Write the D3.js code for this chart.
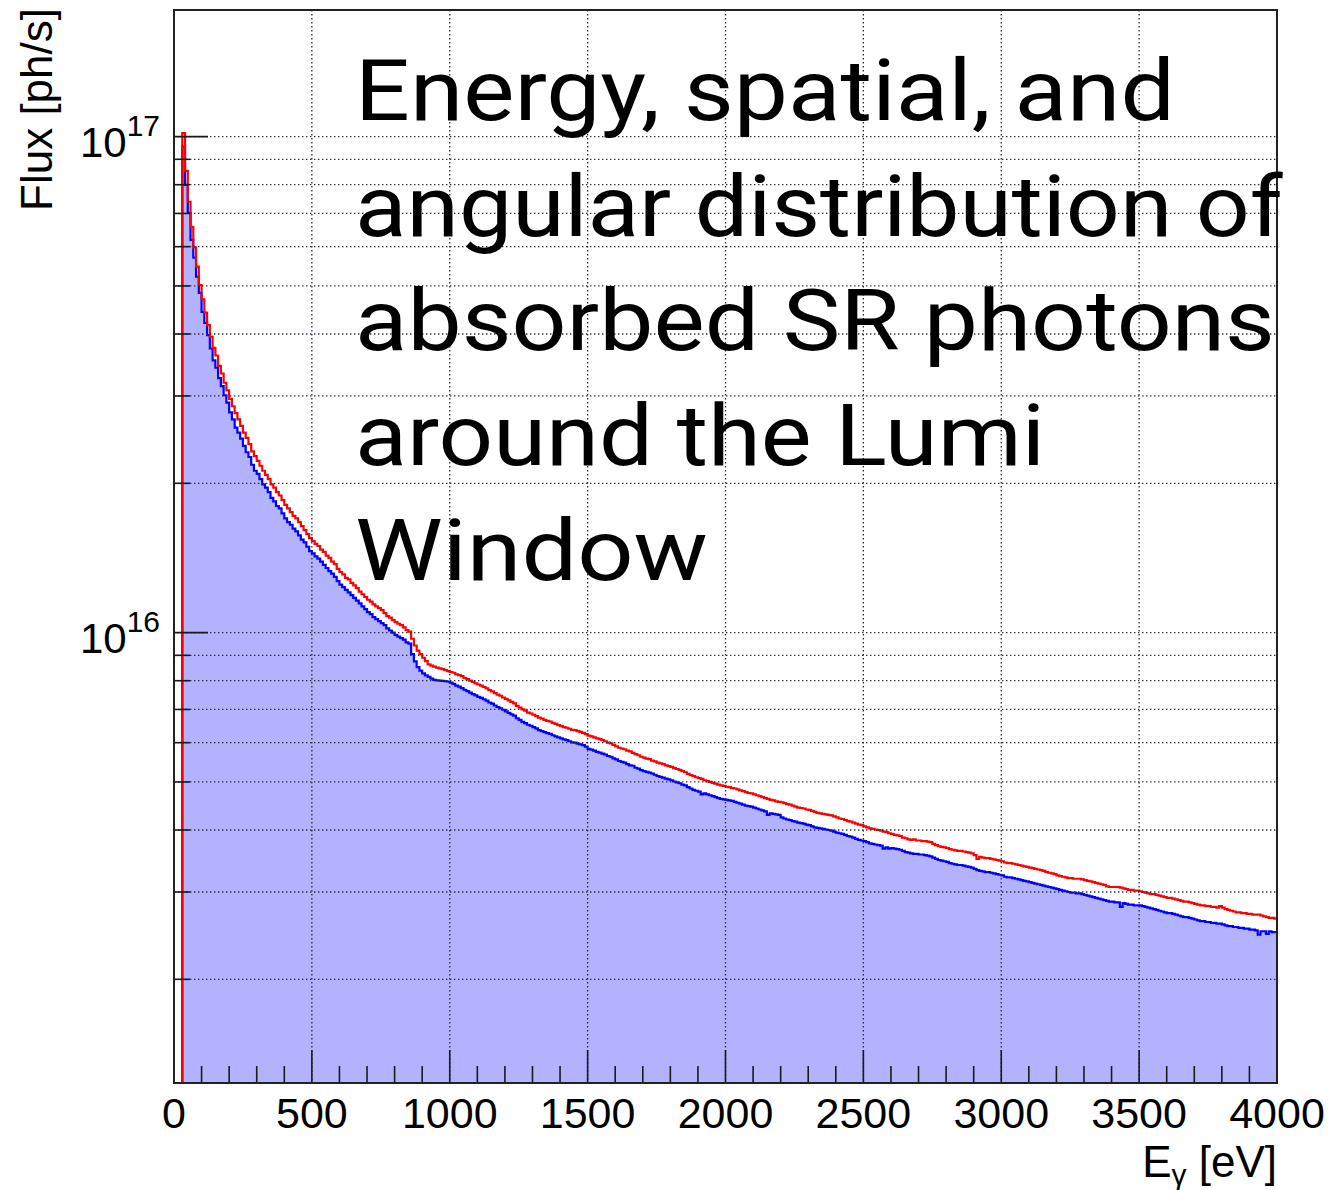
<!DOCTYPE html>
<html>
<head>
<meta charset="utf-8">
<script src="https://cdn.jsdelivr.net/npm/d3@7"></script>
<style>
  html, body { margin: 0; padding: 0; background: #ffffff; }
  svg { display: block; }
</style>
</head>
<body>
<svg id="chart" width="1334" height="1190"></svg>
<script>
// ---- Data -------------------------------------------------------------
// Photon flux per 10 eV energy bin, 0 .. 4000 eV, in units of 1e15 ph/s.
const FLUX_UNIT = 1e15;
const BIN_WIDTH = 10;            // eV
const energyRange = [0, 4000];   // eV
const fluxRange = [1.236e15, 1.8e17];

const xTickValues = [0, 500, 1000, 1500, 2000, 2500, 3000, 3500, 4000];
const xMinorStep = 100;
const yLabelExponents = [16, 17];

const xAxisTitle = "[eV]";
const yAxisTitle = "Flux [ph/s]";
const headlineLines = [
  "Energy, spatial, and",
  "angular distribution of",
  "absorbed SR photons",
  "around the Lumi",
  "Window"
];

// red outline histogram
const fluxRed = [
  0, 0, 0, 101.6, 85.3, 73.9, 65.8, 59.8, 54.7, 50.2,
  47.0, 44.2, 41.7, 39.5, 37.5, 36.2, 34.5, 33.3, 31.9, 30.8,
  29.6, 28.6, 27.7, 26.9, 26.1, 25.3, 24.7, 24.0, 23.2, 22.7,
  22.2, 21.7, 21.2, 20.8, 20.4, 19.9, 19.6, 19.2, 18.9, 18.5,
  18.1, 17.8, 17.5, 17.2, 17.0, 16.7, 16.4, 16.1, 15.8, 15.5,
  15.3, 15.1, 14.95, 14.7, 14.55, 14.3, 14.15, 13.9, 13.75, 13.45,
  13.25, 13.1, 12.9, 12.8, 12.6, 12.45, 12.3, 12.1, 11.95, 11.8,
  11.65, 11.55, 11.4, 11.3, 11.2, 11.1, 10.95, 10.8, 10.72, 10.6,
  10.5, 10.42, 10.35, 10.25, 10.12, 10.05, 9.72, 9.42, 9.2, 9.05,
  8.9, 8.76, 8.63, 8.58, 8.54, 8.5, 8.47, 8.44, 8.4, 8.36,
  8.33, 8.3, 8.24, 8.21, 8.17, 8.1, 8.06, 8.0, 7.96, 7.9,
  7.86, 7.82, 7.77, 7.72, 7.66, 7.61, 7.55, 7.5, 7.46, 7.4,
  7.35, 7.3, 7.25, 7.2, 7.12, 7.06, 7.0, 6.96, 6.9, 6.87,
  6.83, 6.79, 6.74, 6.71, 6.67, 6.64, 6.62, 6.58, 6.55, 6.51,
  6.48, 6.45, 6.43, 6.4, 6.37, 6.36, 6.33, 6.31, 6.28, 6.24,
  6.2, 6.18, 6.15, 6.12, 6.1, 6.07, 6.04, 6.0, 5.98, 5.94,
  5.9, 5.86, 5.84, 5.82, 5.78, 5.76, 5.72, 5.69, 5.66, 5.62,
  5.6, 5.57, 5.56, 5.52, 5.5, 5.47, 5.45, 5.43, 5.4, 5.38,
  5.36, 5.33, 5.31, 5.29, 5.26, 5.23, 5.19, 5.16, 5.14, 5.11,
  5.09, 5.07, 5.04, 5.02, 5.0, 4.98, 4.96, 4.94, 4.92, 4.91,
  4.89, 4.88, 4.86, 4.85, 4.83, 4.81, 4.79, 4.77, 4.75, 4.74,
  4.72, 4.7, 4.68, 4.66, 4.64, 4.62, 4.6, 4.59, 4.57, 4.56,
  4.55, 4.53, 4.51, 4.5, 4.48, 4.46, 4.44, 4.43, 4.42, 4.4,
  4.39, 4.37, 4.35, 4.33, 4.32, 4.31, 4.3, 4.29, 4.28, 4.26,
  4.24, 4.22, 4.21, 4.19, 4.17, 4.16, 4.14, 4.12, 4.1, 4.09,
  4.07, 4.05, 4.03, 4.02, 4.01, 4.0, 3.99, 3.97, 3.96, 3.94,
  3.93, 3.91, 3.9, 3.89, 3.86, 3.85, 3.83, 3.82, 3.83, 3.81,
  3.81, 3.8, 3.8, 3.79, 3.78, 3.75, 3.73, 3.71, 3.7, 3.69,
  3.68, 3.66, 3.65, 3.64, 3.63, 3.63, 3.62, 3.61, 3.6, 3.59,
  3.56, 3.5, 3.53, 3.52, 3.51, 3.51, 3.5, 3.49, 3.48, 3.47,
  3.46, 3.44, 3.43, 3.43, 3.42, 3.41, 3.4, 3.39, 3.38, 3.37,
  3.36, 3.35, 3.34, 3.33, 3.32, 3.31, 3.29, 3.28, 3.27, 3.26,
  3.24, 3.23, 3.22, 3.21, 3.2, 3.2, 3.19, 3.19, 3.19, 3.18,
  3.17, 3.16, 3.15, 3.14, 3.13, 3.12, 3.11, 3.1, 3.08, 3.07,
  3.07, 3.07, 3.07, 3.06, 3.05, 3.04, 3.03, 3.03, 3.02, 3.02,
  3.01, 3.0, 2.99, 2.98, 2.97, 2.97, 2.96, 2.95, 2.94, 2.93,
  2.92, 2.92, 2.91, 2.9, 2.89, 2.88, 2.87, 2.87, 2.86, 2.85,
  2.84, 2.83, 2.82, 2.82, 2.81, 2.81, 2.8, 2.8, 2.79, 2.81,
  2.79, 2.77, 2.76, 2.75, 2.74, 2.73, 2.73, 2.72, 2.72, 2.71,
  2.71, 2.7, 2.7, 2.7, 2.69, 2.68, 2.67, 2.66, 2.66, 2.65
];

// blue filled histogram
const fluxBlue = [
  0, 0, 0, 95.5, 79.9, 70.2, 61.9, 57.0, 52.2, 48.4,
  44.3, 42.1, 39.8, 37.4, 35.4, 34.2, 32.6, 31.4, 30.1, 29.1,
  27.8, 26.9, 25.9, 25.3, 24.6, 23.8, 23.1, 22.6, 21.8, 21.2,
  20.9, 20.4, 19.9, 19.6, 19.2, 18.7, 18.4, 18.0, 17.8, 17.4,
  17.0, 16.7, 16.5, 16.2, 16.0, 15.7, 15.4, 15.2, 14.9, 14.6,
  14.45, 14.25, 14.1, 13.9, 13.7, 13.5, 13.3, 13.15, 12.95, 12.7,
  12.5, 12.35, 12.2, 12.05, 11.9, 11.75, 11.6, 11.45, 11.3, 11.15,
  11.0, 10.9, 10.75, 10.65, 10.55, 10.45, 10.35, 10.2, 10.1, 10.0,
  9.9, 9.82, 9.75, 9.68, 9.56, 9.5, 9.05, 8.75, 8.52, 8.38,
  8.28, 8.2, 8.14, 8.08, 8.03, 8.01, 8.0, 7.99, 7.98, 7.97,
  7.93, 7.88, 7.82, 7.78, 7.73, 7.67, 7.62, 7.57, 7.52, 7.47,
  7.42, 7.39, 7.34, 7.29, 7.23, 7.19, 7.13, 7.08, 7.04, 6.99,
  6.94, 6.89, 6.84, 6.8, 6.72, 6.67, 6.61, 6.57, 6.52, 6.49,
  6.45, 6.41, 6.36, 6.33, 6.3, 6.27, 6.25, 6.21, 6.18, 6.15,
  6.12, 6.09, 6.07, 6.04, 6.01, 6.0, 5.97, 5.95, 5.93, 5.89,
  5.83, 5.81, 5.78, 5.75, 5.73, 5.7, 5.68, 5.64, 5.62, 5.58,
  5.55, 5.51, 5.49, 5.47, 5.43, 5.4, 5.39, 5.34, 5.32, 5.28,
  5.26, 5.24, 5.22, 5.2, 5.17, 5.14, 5.12, 5.1, 5.08, 5.06,
  5.04, 5.01, 4.99, 4.97, 4.94, 4.92, 4.88, 4.85, 4.82, 4.8,
  4.78, 4.72, 4.74, 4.72, 4.7, 4.68, 4.66, 4.64, 4.62, 4.61,
  4.6, 4.59, 4.58, 4.56, 4.54, 4.52, 4.5, 4.48, 4.47, 4.46,
  4.44, 4.42, 4.4, 4.38, 4.36, 4.29, 4.32, 4.31, 4.3, 4.29,
  4.24, 4.22, 4.2, 4.19, 4.17, 4.16, 4.14, 4.13, 4.12, 4.1,
  4.09, 4.07, 4.05, 4.04, 4.03, 4.02, 4.01, 4.0, 3.99, 3.97,
  3.95, 3.94, 3.93, 3.91, 3.89, 3.88, 3.86, 3.84, 3.82, 3.81,
  3.8, 3.78, 3.76, 3.75, 3.74, 3.73, 3.72, 3.67, 3.69, 3.67,
  3.68, 3.67, 3.66, 3.65, 3.63, 3.61, 3.6, 3.59, 3.58, 3.58,
  3.57, 3.57, 3.56, 3.55, 3.54, 3.52, 3.5, 3.48, 3.47, 3.46,
  3.45, 3.43, 3.42, 3.41, 3.4, 3.4, 3.39, 3.38, 3.37, 3.36,
  3.34, 3.32, 3.31, 3.3, 3.29, 3.29, 3.28, 3.27, 3.26, 3.25,
  3.24, 3.22, 3.21, 3.21, 3.2, 3.19, 3.18, 3.17, 3.16, 3.15,
  3.14, 3.13, 3.12, 3.11, 3.1, 3.09, 3.08, 3.07, 3.06, 3.05,
  3.04, 3.03, 3.02, 3.01, 3.0, 2.99, 2.99, 2.98, 2.98, 2.97,
  2.96, 2.95, 2.94, 2.93, 2.92, 2.91, 2.9, 2.89, 2.88, 2.87,
  2.87, 2.86, 2.86, 2.8, 2.85, 2.84, 2.83, 2.83, 2.82, 2.82,
  2.82, 2.81, 2.8, 2.79, 2.78, 2.77, 2.76, 2.75, 2.74, 2.73,
  2.72, 2.72, 2.71, 2.7, 2.69, 2.68, 2.67, 2.67, 2.66, 2.65,
  2.64, 2.63, 2.62, 2.62, 2.61, 2.61, 2.6, 2.6, 2.59, 2.59,
  2.58, 2.57, 2.56, 2.56, 2.55, 2.55, 2.54, 2.54, 2.53, 2.53,
  2.52, 2.52, 2.51, 2.46, 2.5, 2.5, 2.47, 2.5, 2.49, 2.49
];

// ---- Layout -----------------------------------------------------------
const frame = { left: 174, right: 1277, top: 10, bottom: 1083 };
const AXIS_FONT = "'Liberation Sans', Arial, Helvetica, sans-serif";
const HEAD_FONT = "Roboto, 'Noto Sans', sans-serif";

const svg = d3.select("#chart");

const x = d3.scaleLinear().domain(energyRange).range([frame.left, frame.right]);
const y = d3.scaleLog().domain(fluxRange).range([frame.bottom, frame.top]);

svg.append("defs").append("clipPath").attr("id", "plot-clip")
  .append("rect")
  .attr("x", frame.left).attr("y", frame.top - 1)
  .attr("width", frame.right - frame.left)
  .attr("height", frame.bottom - frame.top + 2);

// step outline points of a histogram; empty bins sit on the bottom edge
function stepPoints(values) {
  return values.flatMap((v, i) => {
    const yy = v > 0 ? y(v * FLUX_UNIT) : frame.bottom;
    return [[x(i * BIN_WIDTH), yy], [x((i + 1) * BIN_WIDTH), yy]];
  });
}

const redPts = stepPoints(fluxRed);
const bluePts = stepPoints(fluxBlue);
const firstBlue = fluxBlue.findIndex(v => v > 0);
const blueLinePts = [[x(firstBlue * BIN_WIDTH), frame.bottom]]
  .concat(bluePts.slice(firstBlue * 2));

const plotG = svg.append("g").attr("clip-path", "url(#plot-clip)");

// filled histogram
plotG.append("path")
  .attr("d", d3.area().x(d => d[0]).y0(frame.bottom).y1(d => d[1])(blueLinePts))
  .attr("fill", "rgb(178,178,255)");

// dotted grid
const gridG = svg.append("g")
  .attr("stroke", "#2a2a3a").attr("stroke-width", 1.3)
  .attr("stroke-dasharray", "1.4 2.6");
y.ticks().forEach(t => {
  gridG.append("line")
    .attr("x1", frame.left).attr("x2", frame.right)
    .attr("y1", y(t)).attr("y2", y(t));
});
xTickValues.filter(v => v > energyRange[0] && v < energyRange[1]).forEach(v => {
  gridG.append("line")
    .attr("x1", x(v)).attr("x2", x(v))
    .attr("y1", frame.top).attr("y2", frame.bottom);
});

// histogram outlines
const line = d3.line().x(d => d[0]).y(d => d[1]);
plotG.append("path").attr("d", line(blueLinePts))
  .attr("fill", "none").attr("stroke", "#0000ff").attr("stroke-width", 2.2);
plotG.append("path").attr("d", line(redPts))
  .attr("fill", "none").attr("stroke", "#ff0000").attr("stroke-width", 2.2);

// ticks (inside the frame)
const tickG = svg.append("g").attr("stroke", "#1a1a1a").attr("stroke-width", 1.6);
d3.range(energyRange[0], energyRange[1] + 1, xMinorStep).forEach(v => {
  const major = xTickValues.includes(v);
  tickG.append("line")
    .attr("x1", x(v)).attr("x2", x(v))
    .attr("y1", frame.bottom).attr("y2", frame.bottom - (major ? 33 : 17));
});
y.ticks().forEach(t => {
  const major = Math.abs(Math.log10(t) - Math.round(Math.log10(t))) < 1e-9;
  tickG.append("line")
    .attr("x1", frame.left).attr("x2", frame.left + (major ? 34 : 16))
    .attr("y1", y(t)).attr("y2", y(t));
});

// frame
svg.append("rect")
  .attr("x", frame.left).attr("y", frame.top)
  .attr("width", frame.right - frame.left).attr("height", frame.bottom - frame.top)
  .attr("fill", "none").attr("stroke", "#222").attr("stroke-width", 2);

// x tick labels
svg.append("g").selectAll("text").data(xTickValues).join("text")
  .attr("x", d => x(d)).attr("y", 1128)
  .attr("text-anchor", "middle")
  .attr("font-family", AXIS_FONT).attr("font-size", 43).attr("fill", "#000")
  .text(d => d);

// y tick labels: 10^n
yLabelExponents.forEach(n => {
  const t = svg.append("text")
    .attr("x", 160).attr("y", y(Math.pow(10, n)) + 20)
    .attr("text-anchor", "end")
    .attr("font-family", AXIS_FONT).attr("font-size", 42).attr("fill", "#000");
  t.append("tspan").text("10");
  t.append("tspan").attr("dy", -21).attr("font-size", 30).text(String(n));
});

// x axis title: E_gamma [eV]
const xt = svg.append("text")
  .attr("x", frame.right).attr("y", 1177)
  .attr("text-anchor", "end")
  .attr("font-family", AXIS_FONT).attr("font-size", 44).attr("fill", "#000");
xt.append("tspan").text("E");
xt.append("tspan").attr("dy", 8).attr("font-size", 30).text("\u03b3");
xt.append("tspan").attr("dy", -8).text(" " + xAxisTitle);

// y axis title
svg.append("text")
  .attr("transform", `translate(52,8) rotate(-90)`)
  .attr("text-anchor", "end")
  .attr("font-family", AXIS_FONT).attr("font-size", 44).attr("fill", "#000")
  .text(yAxisTitle);

// headline overlay, one text per line, each fitted to its measured span
const headBaselines = [120, 236, 350, 465, 580];
const headSpans = [820, 928, 920, 690, 353];
headlineLines.forEach((s, i) => {
  const g = svg.append("g");
  const t = g.append("text")
    .attr("x", 0).attr("y", headBaselines[i])
    .attr("font-family", HEAD_FONT).attr("font-size", 86).attr("fill", "#000")
    .text(s);
  const sx = headSpans[i] / t.node().getComputedTextLength();
  g.attr("transform", `translate(355,0) scale(${sx},1)`);
});
</script>
</body>
</html>
